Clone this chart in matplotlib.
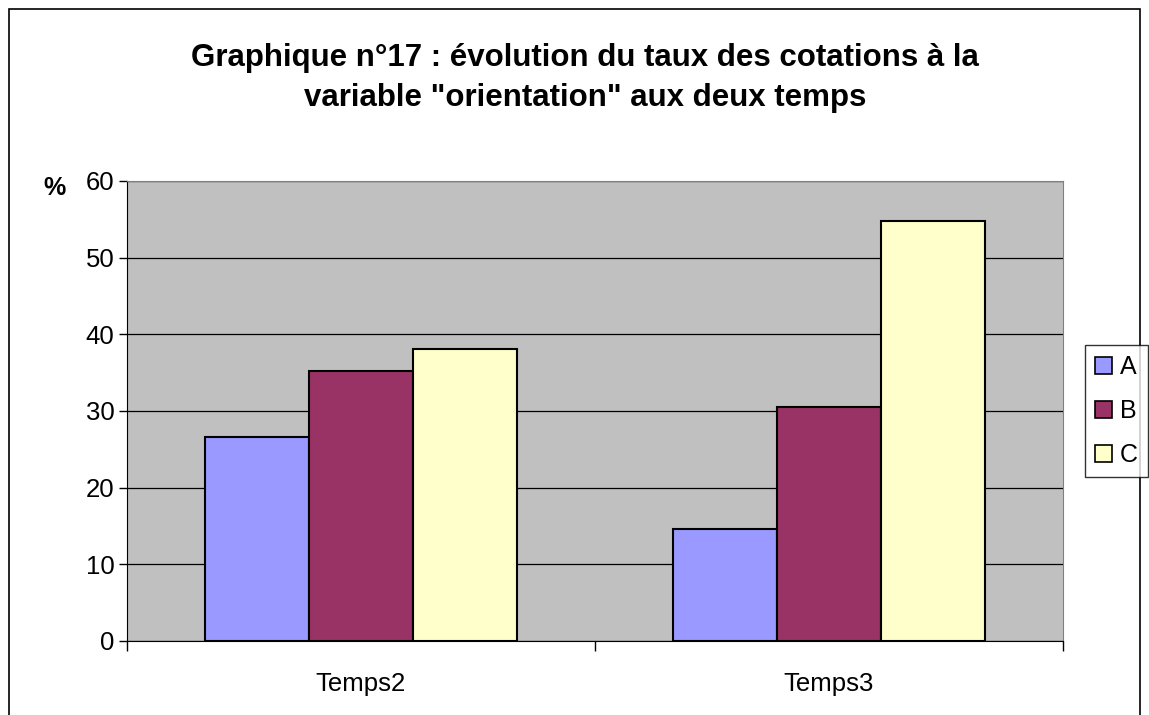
import numpy as np
import matplotlib.pyplot as plt
from matplotlib.patches import Rectangle

plt.rcParams['font.family'] = ['Liberation Sans', 'DejaVu Sans']

categories = ["Temps2", "Temps3"]
series = ["A", "B", "C"]
values_a = [26.6, 14.6]
values_b = [35.2, 30.5]
values_c = [38.1, 54.8]
colors = ["#9999FF", "#993366", "#FFFFCC"]

W, H = 1149, 715
fig = plt.figure(figsize=(W / 100, H / 100), dpi=100)

# outer chart border
fig.patches.append(Rectangle((9 / W, -0.05), (1140 - 9) / W, 1 - 9 / H + 0.05,
                             transform=fig.transFigure, fill=False,
                             edgecolor="black", linewidth=1.2))

ax = fig.add_axes([127 / W, 1 - 641 / H, (1063 - 127) / W, (641 - 181) / H])
ax.set_facecolor("#C0C0C0")

x = np.arange(len(categories))
w = 1 / 4.5
for i, (name, vals) in enumerate(zip(series, [values_a, values_b, values_c])):
    ax.bar(x + (i - 1) * w, vals, w, color=colors[i], edgecolor="black",
           linewidth=1.5, label=name, zorder=3)

ax.set_xlim(-0.5, 1.5)
ax.set_ylim(0, 60)
ax.set_yticks(range(0, 61, 10))
ax.yaxis.grid(True, color="black", linewidth=0.9, zorder=1)
ax.set_axisbelow(True)

ax.set_xticks([-0.5, 0.5, 1.5])
ax.set_xticklabels([])
ax.set_xticks(x, minor=True)
ax.set_xticklabels(categories, minor=True)
ax.tick_params(axis="x", which="minor", length=0, labelsize=18.5, pad=22)
ax.tick_params(axis="x", which="major", length=7, width=1, direction="out")
ax.tick_params(axis="y", length=6, width=1, labelsize=18.5, pad=3)

for s in ["top", "right"]:
    ax.spines[s].set_color("#808080")
for s in ["left", "bottom"]:
    ax.spines[s].set_color("black")

fig.text(585 / W, 1 - 78 / H,
         "Graphique n°17 : évolution du taux des cotations à la\nvariable \"orientation\" aux deux temps",
         ha="center", va="center", fontsize=22.5, fontweight="bold", linespacing=1.4)
fig.text(55 / W, 1 - 188 / H, "%", ha="center", va="center", fontsize=18, fontweight="bold")

leg = fig.legend(loc="center left", bbox_to_anchor=(1085 / W, 1 - 411 / H),
                 fontsize=18, frameon=True, fancybox=False, edgecolor="black",
                 handlelength=0.68, handleheight=0.68, handletextpad=0.3,
                 labelspacing=0.8, borderpad=0.4, borderaxespad=0)
leg.get_frame().set_linewidth(1)
for p in leg.get_patches():
    p.set_linewidth(1.2)

fig.savefig("out.png", dpi=100)
